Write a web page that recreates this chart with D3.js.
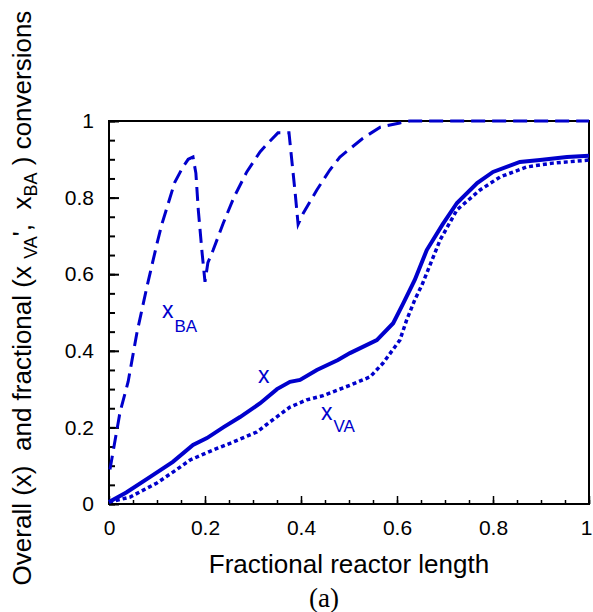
<!DOCTYPE html>
<html><head><meta charset="utf-8">
<script src="https://cdn.jsdelivr.net/npm/d3@7"></script>
<style>
body{margin:0;background:#fff;}
svg{display:block;}
</style></head>
<body>
<script>
// Data: fractional reactor length vs conversion
const xBA = [[0.002,0.09],[0.023,0.24],[0.04,0.32],[0.058,0.446],[0.079,0.567],[0.10,0.68],[0.11,0.73],[0.137,0.84],[0.154,0.88],[0.165,0.90],[0.175,0.906],[0.181,0.864],[0.186,0.768],[0.194,0.655],[0.20,0.58],[0.206,0.63],[0.217,0.663],[0.238,0.733],[0.26,0.80],[0.287,0.867],[0.315,0.92],[0.331,0.942],[0.352,0.969],[0.375,0.969],[0.388,0.81],[0.394,0.73],[0.405,0.76],[0.433,0.82],[0.46,0.872],[0.481,0.906],[0.529,0.955],[0.565,0.984],[0.606,0.995],[0.627,1.0],[1.0,1.0]];
const xOverall = [[0,0.005],[0.036,0.03],[0.085,0.07],[0.133,0.11],[0.175,0.154],[0.204,0.172],[0.238,0.20],[0.273,0.227],[0.315,0.263],[0.35,0.30],[0.377,0.319],[0.398,0.324],[0.433,0.35],[0.477,0.376],[0.502,0.394],[0.558,0.428],[0.592,0.472],[0.613,0.524],[0.637,0.585],[0.662,0.663],[0.695,0.73],[0.725,0.786],[0.767,0.838],[0.80,0.867],[0.856,0.893],[0.898,0.898],[0.954,0.906],[1.0,0.909]];
const xVA = [[0,0.005],[0.044,0.018],[0.10,0.055],[0.14,0.089],[0.169,0.115],[0.217,0.141],[0.259,0.162],[0.308,0.188],[0.335,0.214],[0.377,0.253],[0.412,0.272],[0.446,0.283],[0.477,0.298],[0.502,0.31],[0.544,0.332],[0.571,0.368],[0.606,0.428],[0.62,0.48],[0.637,0.533],[0.652,0.572],[0.662,0.603],[0.69,0.69],[0.725,0.768],[0.773,0.82],[0.815,0.854],[0.87,0.88],[0.925,0.89],[1.0,0.898]];
const xTicks = [0,0.2,0.4,0.6,0.8,1];
const xTickLabels = ["0","0.2","0.4","0.6","0.8","1"];
const yTicks = [0,0.2,0.4,0.6,0.8,1];
const yTickLabels = ["0","0.2","0.4","0.6","0.8","1"];

const SANS="Liberation Sans, Arial, sans-serif";
const W=593,H=612;
const L=109,R=589,T=121,B=504;
const blue="#0000cc";
const svg=d3.select("body").append("svg").attr("width",W).attr("height",H)
  .style("font-family",SANS);
const x=d3.scaleLinear().domain([0,1]).range([L,R]);
const y=d3.scaleLinear().domain([0,1]).range([B,T]);
const minor=d3.range(0,1.0001,0.05);

// frame
svg.append("rect").attr("x",L).attr("y",T).attr("width",R-L).attr("height",B-T)
  .attr("fill","none").attr("stroke","#000").attr("stroke-width",2);

// axes
const xAx=svg.append("g").attr("transform",`translate(0,${B})`)
  .call(d3.axisBottom(x).tickValues(minor).tickSize(-4).tickFormat(""));
xAx.select(".domain").remove();
xAx.selectAll("line").attr("stroke","#000").attr("stroke-width",1.5);
const xAxM=svg.append("g").attr("transform",`translate(0,${B})`)
  .call(d3.axisBottom(x).tickValues(xTicks).tickSize(-8).tickPadding(16).tickFormat((d,i)=>xTickLabels[i]));
xAxM.select(".domain").remove();
xAxM.selectAll("line").attr("stroke","#000").attr("stroke-width",1.5);
xAxM.selectAll("text").style("font-size","21px").style("font-family",SANS).attr("fill","#000")
  .attr("dx",d=>d===1?-3:0);

const yAx=svg.append("g").attr("transform",`translate(${L},0)`)
  .call(d3.axisLeft(y).tickValues(minor).tickSize(-6).tickFormat(""));
yAx.select(".domain").remove();
yAx.selectAll("line").attr("stroke","#000").attr("stroke-width",2);
const yAxM=svg.append("g").attr("transform",`translate(${L},0)`)
  .call(d3.axisLeft(y).tickValues(yTicks).tickSize(-10).tickPadding(15).tickFormat((d,i)=>yTickLabels[i]));
yAxM.select(".domain").remove();
yAxM.selectAll("line").attr("stroke","#000").attr("stroke-width",2);
yAxM.selectAll("text").style("font-size","21px").style("font-family",SANS).attr("fill","#000");

// curves
const line=d3.line().x(d=>x(d[0])).y(d=>y(d[1]));
svg.append("path").datum(xBA).attr("d",line).attr("fill","none").attr("stroke",blue)
  .attr("stroke-width",3).attr("stroke-dasharray","14,7");
svg.append("path").datum(xVA).attr("d",line).attr("fill","none").attr("stroke",blue)
  .attr("stroke-width",3.5).attr("stroke-dasharray","4,3");
svg.append("path").datum(xOverall).attr("d",line).attr("fill","none").attr("stroke",blue)
  .attr("stroke-width",4);

// curve labels
function subLabel(px,py,main,sub,shift){
  const t=svg.append("text").attr("x",px).attr("y",py).attr("fill",blue).style("font-size","23px");
  t.append("tspan").text(main);
  if(sub) t.append("tspan").attr("dx",1).attr("dy",shift).style("font-size","17px").text(sub);
}
subLabel(162,318,"x","BA",14);
subLabel(258,383,"x",null,0);
subLabel(321,420,"x","VA",12);

// axis titles
svg.append("text").attr("x",(L+R)/2).attr("y",573).attr("text-anchor","middle")
  .style("font-size","26px").attr("fill","#000").text("Fractional reactor length");
svg.append("text").attr("x",324).attr("y",607).attr("text-anchor","middle")
  .style("font-size","27px").style("font-family","Liberation Serif, Times New Roman, serif")
  .attr("fill","#000").text("(a)");

const yl=svg.append("text").attr("transform","translate(31,298) rotate(-90)")
  .attr("text-anchor","middle").style("font-size","26px").attr("fill","#000").style("white-space","pre");
yl.append("tspan").text("Overall (x)  and fractional (x ");
yl.append("tspan").attr("dy",6).style("font-size","18px").text("VA");
yl.append("tspan").attr("dy",-6).text("',  x");
yl.append("tspan").attr("dy",6).style("font-size","18px").text("BA");
yl.append("tspan").attr("dy",-6).text(" ) conversions");
</script>
</body></html>
